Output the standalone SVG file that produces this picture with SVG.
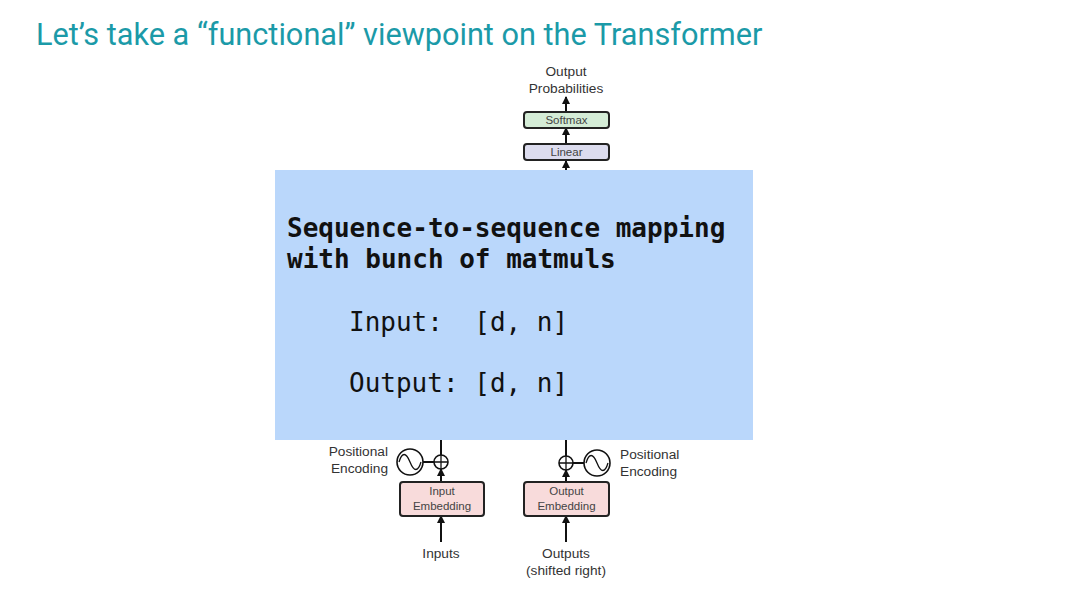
<svg xmlns="http://www.w3.org/2000/svg" width="1080" height="604" viewBox="0 0 1080 604">
<defs>
<style>
.title{font-family:Roboto,"Liberation Sans",sans-serif;font-size:30.7px;fill:#1b9aa8}
.lbl{font-family:"Liberation Sans",Arial,sans-serif;font-size:13.7px;fill:#333}
.blbl{font-family:"Liberation Sans",Arial,sans-serif;font-size:11.5px;fill:#444}
.box{stroke:#222;stroke-width:2}
.mono{font-family:"DejaVu Sans Mono","Liberation Mono",monospace;font-size:26px;fill:#111}
.ln{stroke:#111;stroke-width:2;fill:none}
.circ{stroke:#111;stroke-width:1.6;fill:#fff}
</style>
<marker id="ah" viewBox="0 0 8 8" refX="7" refY="4" markerWidth="4" markerHeight="4" orient="auto"><path d="M0,0 L8,4 L0,8 z" fill="#111"/></marker>
</defs>
<rect width="1080" height="604" fill="#fff"/>
<text class="title" x="36" y="45">Let’s take a “functional” viewpoint on the Transformer</text>

<g id="connectors">
<line class="ln" x1="566" y1="170" x2="566" y2="161" marker-end="url(#ah)"/>
<line class="ln" x1="566" y1="144" x2="566" y2="128" marker-end="url(#ah)"/>
<line class="ln" x1="566" y1="112" x2="566" y2="97" marker-end="url(#ah)"/>
<line class="ln" x1="441" y1="440" x2="441" y2="455"/>
<line class="ln" x1="441" y1="482" x2="441" y2="469" marker-end="url(#ah)"/>
<line class="ln" x1="441" y1="542" x2="441" y2="516" marker-end="url(#ah)"/>
<line class="ln" x1="423" y1="462" x2="434" y2="462"/>
<line class="ln" x1="566" y1="440" x2="566" y2="456"/>
<line class="ln" x1="566" y1="482" x2="566" y2="470" marker-end="url(#ah)"/>
<line class="ln" x1="566" y1="542" x2="566" y2="516" marker-end="url(#ah)"/>
<line class="ln" x1="573" y1="463" x2="584" y2="463"/>
</g>

<g id="output-probabilities">
<text class="lbl" x="566" y="76" text-anchor="middle">Output</text>
<text class="lbl" x="566" y="93" text-anchor="middle">Probabilities</text>
</g>
<g id="softmax">
<rect class="box" x="524" y="112" width="85" height="16" rx="3" fill="#d4ecd6"/>
<text class="blbl" x="566.5" y="124" text-anchor="middle">Softmax</text>
</g>
<g id="linear">
<rect class="box" x="524" y="144" width="85" height="16" rx="3" fill="#dcdcee"/>
<text class="blbl" x="566.5" y="156" text-anchor="middle">Linear</text>
</g>

<g id="mapping-box">
<rect x="275" y="170" width="478" height="270" fill="#bad7fb"/>
<text class="mono" x="287" y="237" font-weight="bold">Sequence-to-sequence mapping</text>
<text class="mono" x="287" y="268" font-weight="bold">with bunch of matmuls</text>
<text class="mono" x="349" y="331" xml:space="preserve">Input:  [d, n]</text>
<text class="mono" x="349" y="392" xml:space="preserve">Output: [d, n]</text>
</g>

<g id="input-posenc">
<text class="lbl" x="388" y="456" text-anchor="end">Positional</text>
<text class="lbl" x="388" y="473" text-anchor="end">Encoding</text>
<circle class="circ" cx="410" cy="462" r="13"/>
<path d="M399,462 C402,452 406,452 410,462 C414,472 418,472 421,462" stroke="#111" stroke-width="1.3" fill="none"/>
</g>
<g id="input-add">
<circle class="circ" cx="441" cy="462" r="7"/>
<path d="M434,462 H448 M441,455 V469" stroke="#111" stroke-width="1.3"/>
</g>
<g id="input-embedding">
<rect class="box" x="400" y="482" width="84" height="34" rx="3" fill="#f8dbdb"/>
<text class="blbl" x="442" y="495" text-anchor="middle">Input</text>
<text class="blbl" x="442" y="510" text-anchor="middle">Embedding</text>
</g>
<g id="inputs">
<text class="lbl" x="441" y="558" text-anchor="middle">Inputs</text>
</g>

<g id="output-posenc">
<text class="lbl" x="620" y="459">Positional</text>
<text class="lbl" x="620" y="476">Encoding</text>
<circle class="circ" cx="597" cy="463" r="13"/>
<path d="M586,463 C589,453 593,453 597,463 C601,473 605,473 608,463" stroke="#111" stroke-width="1.3" fill="none"/>
</g>
<g id="output-add">
<circle class="circ" cx="566" cy="463" r="7"/>
<path d="M559,463 H573 M566,456 V470" stroke="#111" stroke-width="1.3"/>
</g>
<g id="output-embedding">
<rect class="box" x="524" y="482" width="85" height="34" rx="3" fill="#f8dbdb"/>
<text class="blbl" x="566.5" y="495" text-anchor="middle">Output</text>
<text class="blbl" x="566.5" y="510" text-anchor="middle">Embedding</text>
</g>
<g id="outputs">
<text class="lbl" x="566" y="558" text-anchor="middle">Outputs</text>
<text class="lbl" x="566" y="575" text-anchor="middle">(shifted right)</text>
</g>
</svg>
